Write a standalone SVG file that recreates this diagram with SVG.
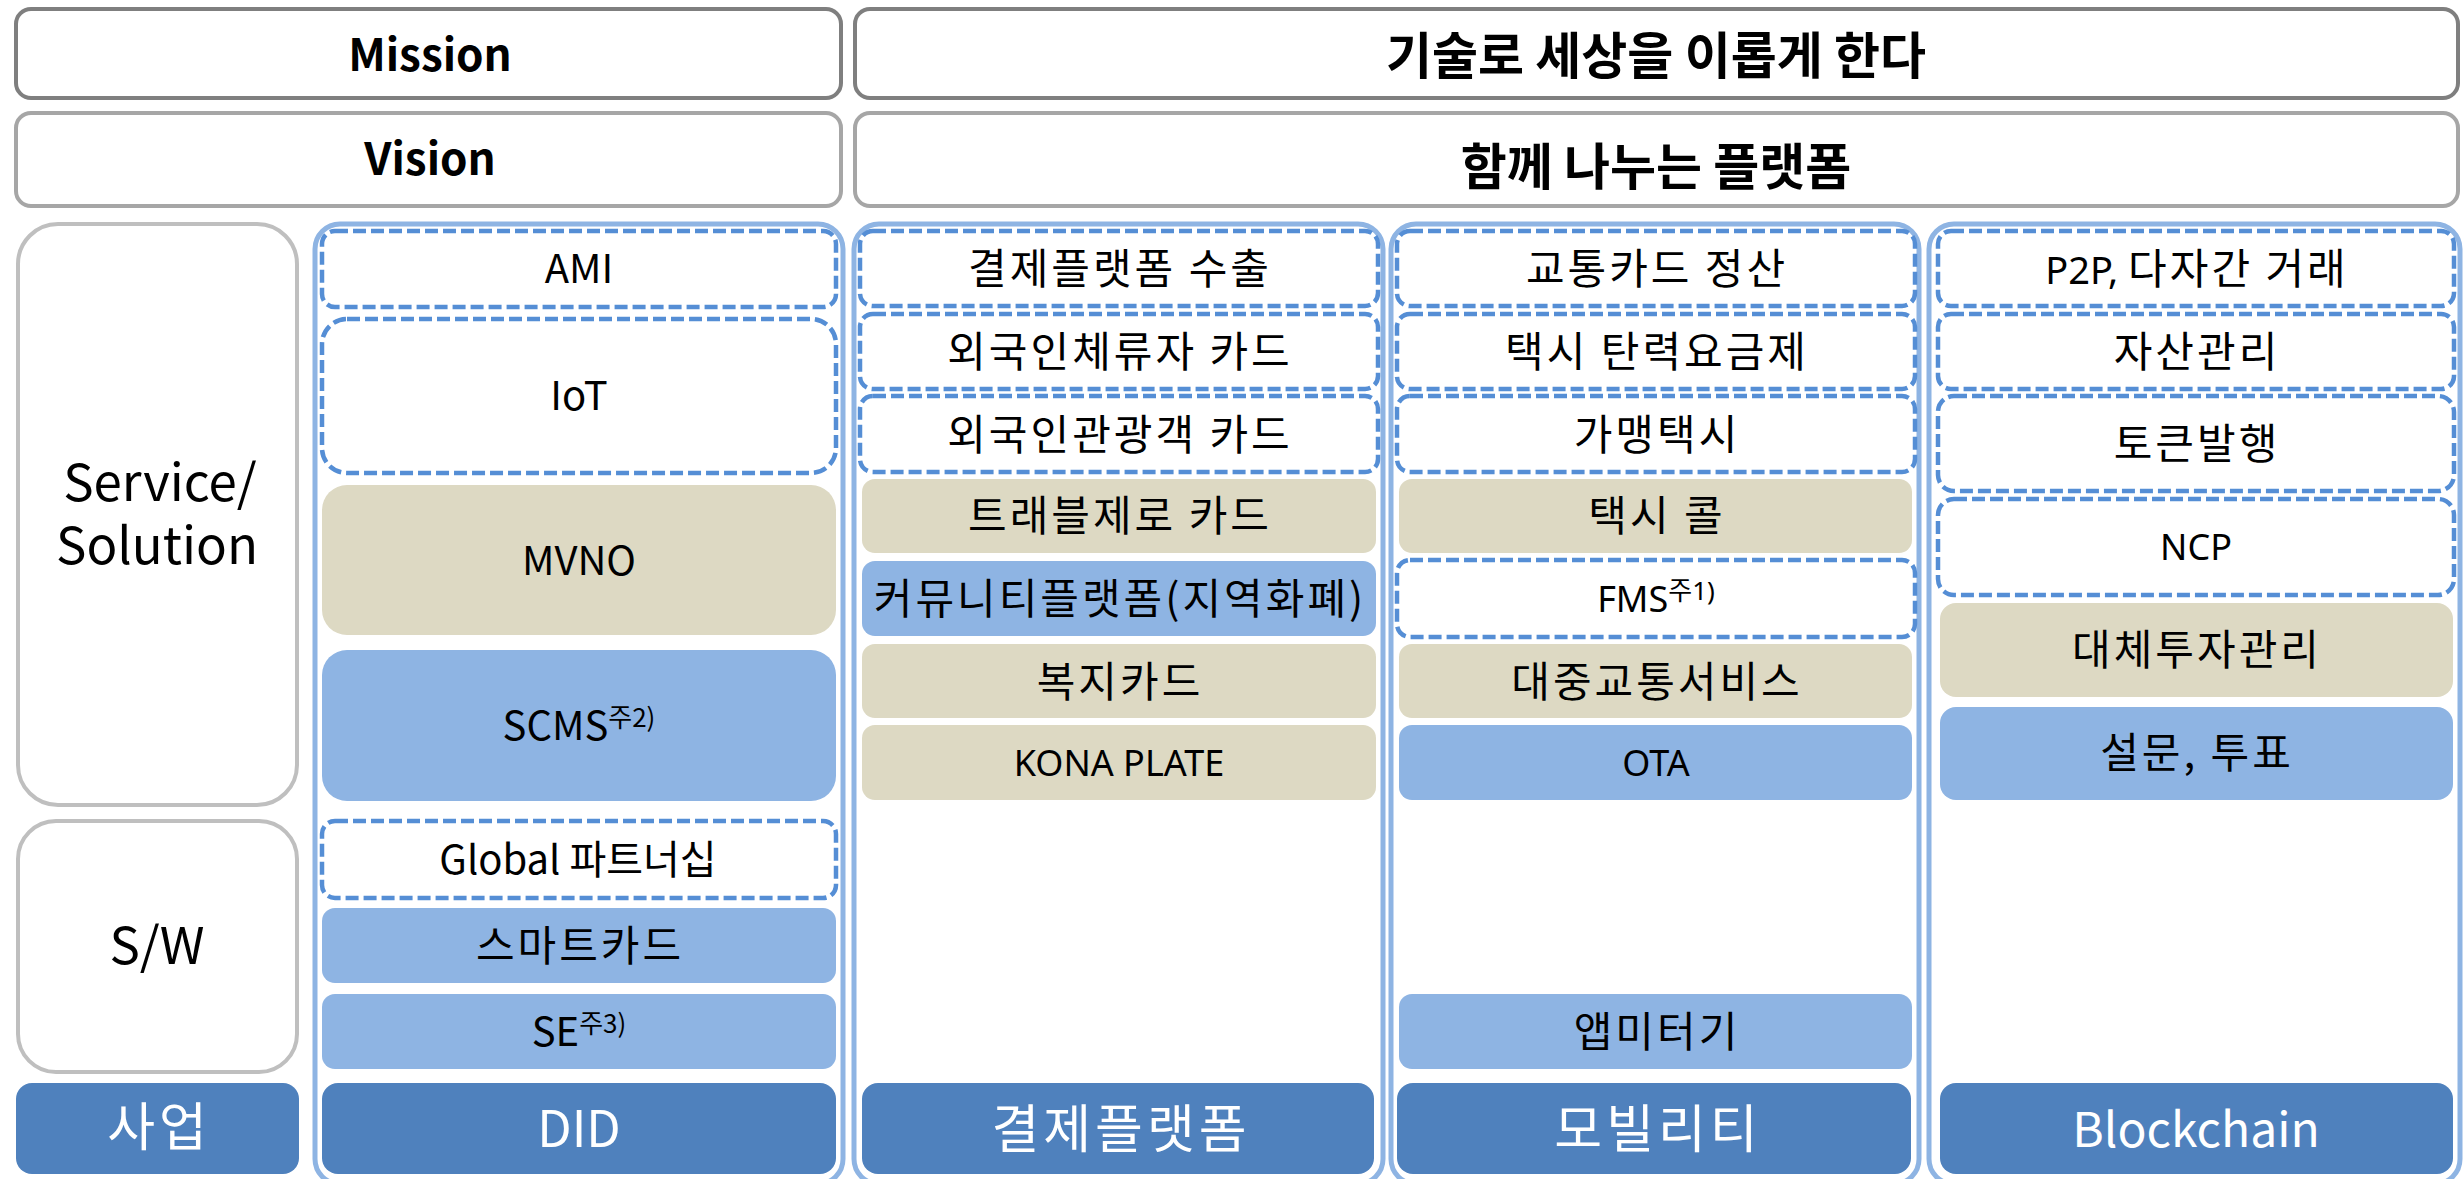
<svg xmlns="http://www.w3.org/2000/svg" width="2464" height="1179" viewBox="0 0 2464 1179">
<style>
.g1{fill:#fff;stroke:#7F7F7F;stroke-width:4}
.g2{fill:#fff;stroke:#A6A6A6;stroke-width:4}
.g3{fill:#fff;stroke:#BFBFBF;stroke-width:4}
.col{fill:#fff;stroke:#8EB4E3;stroke-width:5}
.dash{fill:#fff;stroke:#558ED5;stroke-width:4.5;stroke-dasharray:13 5}
.beige{fill:#DDD9C3}
.lb{fill:#8EB4E3}
.db{fill:#4F81BD}
text{text-anchor:middle;fill:#000;font-family:"Noto Sans CJK KR",sans-serif}
.kr{font-size:42px;letter-spacing:3px}
.lat{font-size:40px}
.ml{font-family:"Noto Sans","Noto Sans CJK KR",sans-serif;font-size:36px;letter-spacing:0}
.p2p{font-size:38px}
.big{font-size:51px}
.w{fill:#fff;font-size:52px;letter-spacing:4px}
.wl{fill:#fff;font-size:50px}
.bcl{font-size:48px}
.tb{font-weight:bold;font-size:44px}
.tk{font-weight:bold;font-size:50px}
.sup{font-size:26px;letter-spacing:0}
</style>

<g id="mission-label"><rect class="g1" x="16" y="9" width="825" height="89" rx="15"/><text class="tb" x="430" y="71">Mission</text></g>
<g id="mission-text"><rect class="g1" x="855" y="9" width="1603" height="89" rx="15"/><text class="tk" x="1656" y="74">기술로 세상을 이롭게 한다</text></g>
<g id="vision-label"><rect class="g2" x="16" y="113" width="825" height="93" rx="15"/><text class="tb" x="430" y="175">Vision</text></g>
<g id="vision-text"><rect class="g2" x="855" y="113" width="1603" height="93" rx="15"/><text class="tk" x="1656" y="185">함께 나누는 플랫폼</text></g>

<g id="service-label"><rect class="g3" x="18" y="224" width="279" height="581" rx="40"/><text class="big" x="160" y="501">Service/</text><text class="big" x="157" y="564">Solution</text></g>
<g id="sw-label"><rect class="g3" x="18" y="821" width="279" height="251" rx="38"/><text class="big" x="157" y="964">S/W</text></g>
<g id="business-label"><rect class="db" x="16" y="1083" width="283" height="91" rx="16"/><text class="w" x="159" y="1146">사업</text></g>

<g id="col-did"><rect class="col" x="315" y="224" width="528" height="960" rx="25"/></g>
<g id="col-pay"><rect class="col" x="854" y="224" width="529" height="960" rx="25"/></g>
<g id="col-mob"><rect class="col" x="1391" y="224" width="528" height="960" rx="25"/></g>
<g id="col-bc"><rect class="col" x="1929" y="224" width="531" height="960" rx="25"/></g>

<g id="did-ami"><rect class="dash" x="322" y="231" width="514" height="76" rx="13"/><text class="lat" x="579" y="283">AMI</text></g>
<g id="did-iot"><rect class="dash" x="322" y="319" width="514" height="154" rx="25"/><text class="lat" x="579" y="410">IoT</text></g>
<g id="did-mvno"><rect class="beige" x="322" y="485" width="514" height="150" rx="25"/><text class="lat" x="579" y="575">MVNO</text></g>
<g id="did-scms"><rect class="lb" x="322" y="650" width="514" height="151" rx="25"/><text class="lat" x="579" y="740">SCMS<tspan class="sup" dy="-13">주2)</tspan></text></g>
<g id="did-global"><rect class="dash" x="322" y="821" width="514" height="77" rx="13"/><text class="lat" x="578" y="874">Global 파트너십</text></g>
<g id="did-smartcard"><rect class="lb" x="322" y="908" width="514" height="75" rx="13"/><text class="kr" x="580" y="961">스마트카드</text></g>
<g id="did-se"><rect class="lb" x="322" y="994" width="514" height="75" rx="13"/><text class="lat" x="579" y="1046">SE<tspan class="sup" dy="-13">주3)</tspan></text></g>
<g id="did-title"><rect class="db" x="322" y="1083" width="514" height="91" rx="16"/><text class="wl" x="579" y="1147">DID</text></g>

<g id="pay-export"><rect class="dash" x="860" y="231" width="518" height="75" rx="13"/><text class="kr" x="1120" y="284">결제플랫폼 수출</text></g>
<g id="pay-resident"><rect class="dash" x="860" y="314" width="518" height="75" rx="13"/><text class="kr" x="1120" y="367">외국인체류자 카드</text></g>
<g id="pay-tourist"><rect class="dash" x="860" y="396" width="518" height="76" rx="13"/><text class="kr" x="1120" y="450">외국인관광객 카드</text></g>
<g id="pay-travel"><rect class="beige" x="862" y="479" width="514" height="74" rx="13"/><text class="kr" x="1120" y="531">트래블제로 카드</text></g>
<g id="pay-community"><rect class="lb" x="862" y="561" width="514" height="75" rx="13"/><text class="kr" x="1120" y="614">커뮤니티플랫폼(지역화폐)</text></g>
<g id="pay-welfare"><rect class="beige" x="862" y="644" width="514" height="74" rx="13"/><text class="kr" x="1120" y="697">복지카드</text></g>
<g id="pay-kona"><rect class="beige" x="862" y="725" width="514" height="75" rx="13"/><text class="ml" x="1119" y="776">KONA PLATE</text></g>
<g id="pay-title"><rect class="db" x="862" y="1083" width="512" height="91" rx="16"/><text class="w" x="1121" y="1148">결제플랫폼</text></g>

<g id="mob-settle"><rect class="dash" x="1397" y="231" width="518" height="75" rx="13"/><text class="kr" x="1657" y="284">교통카드 정산</text></g>
<g id="mob-fare"><rect class="dash" x="1397" y="314" width="518" height="75" rx="13"/><text class="kr" x="1657" y="367">택시 탄력요금제</text></g>
<g id="mob-franchise"><rect class="dash" x="1397" y="396" width="518" height="76" rx="13"/><text class="kr" x="1657" y="450">가맹택시</text></g>
<g id="mob-call"><rect class="beige" x="1399" y="479" width="513" height="74" rx="13"/><text class="kr" x="1657" y="531">택시 콜</text></g>
<g id="mob-fms"><rect class="dash" x="1397" y="560" width="518" height="77" rx="13"/><text class="ml" x="1656" y="612">FMS<tspan class="sup" dy="-12">주1)</tspan></text></g>
<g id="mob-transit"><rect class="beige" x="1399" y="644" width="513" height="74" rx="13"/><text class="kr" x="1657" y="697">대중교통서비스</text></g>
<g id="mob-ota"><rect class="lb" x="1399" y="725" width="513" height="75" rx="13"/><text class="ml" x="1656" y="776">OTA</text></g>
<g id="mob-appmeter"><rect class="lb" x="1399" y="994" width="513" height="75" rx="13"/><text class="kr" x="1657" y="1047">앱미터기</text></g>
<g id="mob-title"><rect class="db" x="1397" y="1083" width="514" height="91" rx="16"/><text class="w" x="1658" y="1148">모빌리티</text></g>

<g id="bc-p2p"><rect class="dash" x="1938" y="231" width="516" height="75" rx="13"/><text class="kr" x="2197" y="284"><tspan class="ml p2p">P2P, </tspan>다자간 거래</text></g>
<g id="bc-asset"><rect class="dash" x="1938" y="314" width="516" height="75" rx="13"/><text class="kr" x="2197" y="367">자산관리</text></g>
<g id="bc-token"><rect class="dash" x="1938" y="396" width="516" height="95" rx="16"/><text class="kr" x="2197" y="459">토큰발행</text></g>
<g id="bc-ncp"><rect class="dash" x="1938" y="499" width="516" height="96" rx="16"/><text class="ml" x="2196" y="560">NCP</text></g>
<g id="bc-alt"><rect class="beige" x="1940" y="603" width="513" height="94" rx="16"/><text class="kr" x="2197" y="665">대체투자관리</text></g>
<g id="bc-vote"><rect class="lb" x="1940" y="707" width="513" height="93" rx="16"/><text class="kr" x="2197" y="768">설문, 투표</text></g>
<g id="bc-title"><rect class="db" x="1940" y="1083" width="513" height="91" rx="16"/><text class="wl bcl" x="2196" y="1147">Blockchain</text></g>

<g id="connectors"></g>
</svg>
